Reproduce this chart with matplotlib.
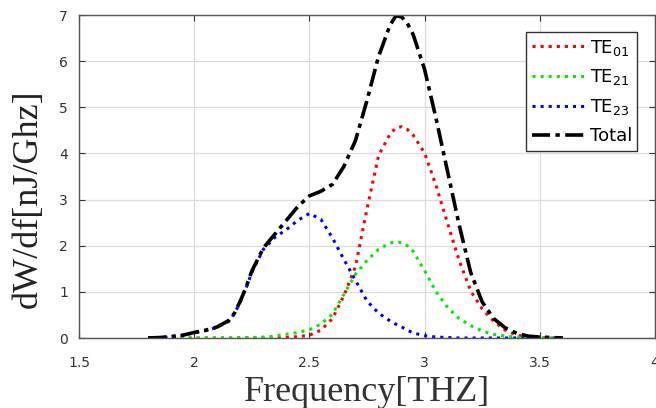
import numpy as np
import matplotlib
matplotlib.use("Agg")
import matplotlib.pyplot as plt

freq = [1.80, 1.85, 1.90, 1.95, 2.00, 2.05, 2.10, 2.15, 2.175, 2.20, 2.225, 2.25, 2.30, 2.35,
        2.40, 2.45, 2.50, 2.55, 2.60, 2.65, 2.70, 2.75, 2.80, 2.85, 2.875, 2.90, 2.925, 2.95,
        3.00, 3.05, 3.10, 3.15, 3.20, 3.25, 3.30, 3.35, 3.40, 3.45, 3.50, 3.55, 3.60]

te01 = [0, 0, 0, 0, 0, 0, 0, 0, 0, 0, 0, 0, 0, 0,
        0.01, 0.03, 0.06, 0.17, 0.42, 0.92, 1.55, 2.80, 3.95, 4.42, 4.55, 4.58, 4.52, 4.40,
        4.01, 3.30, 2.48, 1.68, 1.02, 0.63, 0.36, 0.17, 0.06, 0.03, 0.01, 0, 0]

te21 = [0, 0, 0, 0, 0, 0, 0, 0, 0, 0.01, 0.01, 0.01, 0.02, 0.04,
        0.08, 0.12, 0.18, 0.30, 0.52, 0.95, 1.38, 1.68, 1.92, 2.06, 2.08, 2.07, 2.00, 1.88,
        1.46, 1.00, 0.66, 0.42, 0.27, 0.15, 0.08, 0.04, 0.02, 0.01, 0, 0, 0]

te23 = [0, 0.01, 0.03, 0.06, 0.11, 0.16, 0.23, 0.36, 0.53, 0.78, 1.08, 1.42, 1.92, 2.18,
        2.35, 2.55, 2.70, 2.57, 2.17, 1.70, 1.25, 0.80, 0.54, 0.37, 0.30, 0.24, 0.17, 0.11,
        0.05, 0.02, 0.01, 0, 0, 0, 0, 0, 0, 0, 0, 0, 0]

total = [0, 0.01, 0.03, 0.06, 0.12, 0.17, 0.24, 0.38, 0.54, 0.80, 1.10, 1.45, 1.95, 2.25,
         2.55, 2.85, 3.08, 3.18, 3.33, 3.72, 4.28, 5.15, 6.10, 6.78, 6.98, 6.96, 6.82, 6.58,
         5.82, 4.75, 3.60, 2.45, 1.42, 0.78, 0.42, 0.22, 0.10, 0.04, 0.02, 0.01, 0]

xticks = [1.5, 2, 2.5, 3, 3.5, 4]
xticklabels = ["1.5", "2", "2.5", "3", "3.5", "4"]

fig = plt.figure(figsize=(6.56, 4.08), dpi=100)
ax = fig.add_axes([79 / 656, 70 / 408, 576 / 656, 323 / 408])

ax.plot(freq, te01, color="red", linestyle=":", linewidth=2.2, label="TE$_{\\mathregular{01}}$")
ax.plot(freq, te21, color="#00ee00", linestyle=":", linewidth=2.2, label="TE$_{\\mathregular{21}}$")
ax.plot(freq, te23, color="blue", linestyle=":", linewidth=2.2, label="TE$_{\\mathregular{23}}$")
ax.plot(freq, total, color="black", linestyle=(0, (5, 1.5, 1.2, 1.5)), linewidth=2.6, label="Total")

ax.set_xlim(1.5, 4)
ax.set_ylim(0, 7)
ax.set_xticks(xticks)
ax.set_xticklabels(xticklabels)
ax.set_yticks(range(8))
ax.grid(True, color="#dddddd", linewidth=0.9)
ax.set_axisbelow(True)
ax.tick_params(direction="in", top=True, right=True, labelsize=10, colors="#333333", length=4)
ax.tick_params(axis="x", pad=13)
ax.tick_params(axis="y", pad=8)
for s in ax.spines.values():
    s.set_color("#555555")
    s.set_linewidth(1)

ax.set_xlabel("Frequency[THZ]", family="Liberation Serif", fontsize=26, color="#333333")
ax.xaxis.set_label_coords(0.5, -0.118)
ax.set_ylabel("dW/df[nJ/Ghz]", family="Liberation Serif", fontsize=26, color="#222222")
ax.yaxis.set_label_coords(-0.06, 0.43)

leg = ax.legend(loc="upper right", bbox_to_anchor=(0.985, 0.975), fontsize=13, handlelength=3.0,
                fancybox=False, framealpha=1, borderpad=0.3, labelspacing=0.55, handletextpad=0.2)
leg.get_frame().set_edgecolor("#333333")
leg.get_frame().set_linewidth(1)

plt.savefig("out.png", dpi=100)
